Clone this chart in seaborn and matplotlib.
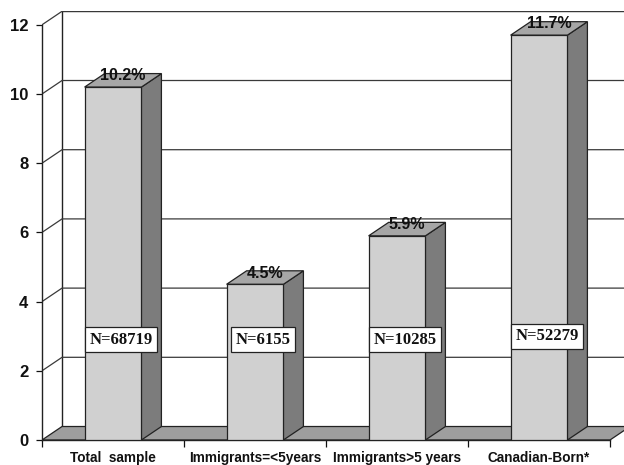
import matplotlib
matplotlib.use("Agg")
import matplotlib.pyplot as plt
from matplotlib.patches import Polygon
from matplotlib.ticker import FixedLocator
import seaborn as sns
import pandas as pd

# Prevalence by group, with sample sizes
categories = ["Total  sample", "Immigrants=<5years", "Immigrants>5 years", "Canadian-Born*"]
prevalence = [10.2, 4.5, 5.9, 11.7]
pct_labels = ["10.2%", "4.5%", "5.9%", "11.7%"]
sample_sizes = ["N=68719", "N=6155", "N=10285", "N=52279"]
yticks = [0, 2, 4, 6, 8, 10, 12]

# Styling / layout
FRONT = "#d0d0d0"
SIDE = "#7c7c7c"
TOP = "#a6a6a6"
FLOOR = "#9e9e9e"
EDGE = "#222222"
GRID = "#3a3a3a"
DX, DY = 0.141, 0.39          # depth offset of the pseudo-3D box (data units)
YMAX = 12
N_LABEL_Y = [2.9, 2.9, 2.9, 3.0]
N_LABEL_SHIFT = 0.056

sns.set_style("white")
plt.rcParams["font.family"] = ["Liberation Sans", "DejaVu Sans"]

fig = plt.figure(figsize=(6.24, 4.65), dpi=100)
ax = fig.add_axes([42 / 624, 25 / 465, (4 + DX) * 142 / 624, (YMAX + DY) * 34.6 / 465])

df = pd.DataFrame({"group": categories, "pct": prevalence})
sns.barplot(data=df, x="group", y="pct", color=FRONT, saturation=1, width=0.4,
            edgecolor=EDGE, linewidth=0.9, errorbar=None, ax=ax, zorder=4)
bars = list(ax.patches)

ax.set_xlim(-0.5, 3.5 + DX)
ax.set_ylim(0, YMAX + DY)
x0, x1 = -0.5, 3.5

# back wall and left wall grid lines
ax.plot([x0 + DX, x0 + DX, x1 + DX], [DY, YMAX + DY, YMAX + DY], color=EDGE, lw=1.0, zorder=1)
for t in yticks[1:]:
    ax.plot([x0, x0 + DX, x1 + DX], [t, t + DY, t + DY], color=GRID, lw=0.9, zorder=1)

# floor
ax.add_patch(Polygon([(x0, 0), (x1, 0), (x1 + DX, DY), (x0 + DX, DY)], closed=True,
                     fc=FLOOR, ec=EDGE, lw=0.9, zorder=2))

# bar depth faces and labels
for bar, pct, n, ny in zip(bars, pct_labels, sample_sizes, N_LABEL_Y):
    x = bar.get_x()
    w = bar.get_width()
    h = bar.get_height()
    ax.add_patch(Polygon([(x + w, 0), (x + w + DX, DY), (x + w + DX, h + DY), (x + w, h)],
                         closed=True, fc=SIDE, ec=EDGE, lw=0.9, zorder=3.5))
    ax.add_patch(Polygon([(x, h), (x + DX, h + DY), (x + w + DX, h + DY), (x + w, h)],
                         closed=True, fc=TOP, ec=EDGE, lw=0.9, zorder=3.5))
    ax.text(x + w / 2 + DX / 2, h + DY / 2, pct, ha="center", va="baseline",
            fontsize=11.5, fontweight="bold", color="#111111", zorder=6)
    ax.text(x + w / 2 + N_LABEL_SHIFT, ny, n, ha="center", va="center",
            family="Liberation Serif", fontsize=12, fontweight="bold", color="#111111",
            bbox=dict(boxstyle="square,pad=0.28", fc="white", ec=EDGE, lw=0.9), zorder=7)

# axes
ax.set_xlabel("")
ax.set_ylabel("")
ax.set_yticks(yticks)
ax.set_yticklabels([str(t) for t in yticks], fontsize=12, fontweight="bold")
ax.tick_params(axis="y", left=True, length=4.3, width=0.9, pad=5.5, direction="out", colors="#111111")
ax.set_xticks(range(len(categories)))
ax.set_xticklabels(categories, fontsize=9.8, fontweight="bold")
ax.tick_params(axis="x", which="major", length=0, pad=8, colors="#111111")
ax.xaxis.set_minor_locator(FixedLocator([-0.5, 0.5, 1.5, 2.5, 3.5]))
ax.tick_params(axis="x", which="minor", bottom=True, length=5, width=0.9, direction="out", color="#111111")

for side in ("top", "right"):
    ax.spines[side].set_visible(False)
ax.spines["left"].set_bounds(0, YMAX)
ax.spines["bottom"].set_bounds(x0, x1)
for side in ("left", "bottom"):
    ax.spines[side].set_color(EDGE)
    ax.spines[side].set_linewidth(1.0)
ax.patch.set_alpha(0)

fig.savefig("out.png", dpi=100, facecolor="white")
